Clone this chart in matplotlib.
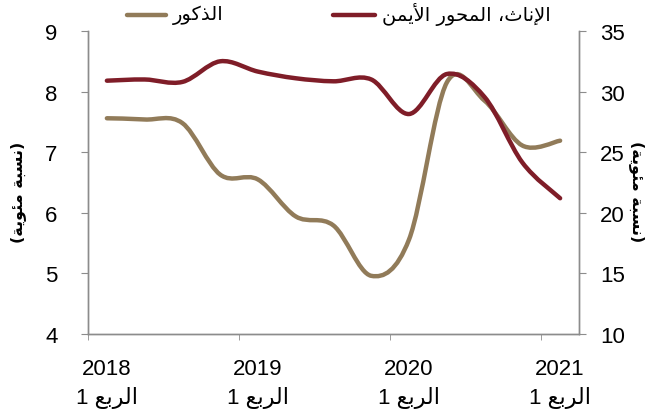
import matplotlib
matplotlib.use("Agg")
import matplotlib.pyplot as plt
import numpy as np
from matplotlib.path import Path
from matplotlib.patches import PathPatch
from matplotlib.lines import Line2D

# quarterly data, 2018 Q1 .. 2021 Q1
quarters = np.arange(13)
males = [7.56, 7.54, 7.48, 6.63, 6.55, 5.94, 5.79, 4.96, 5.56, 8.15, 7.85, 7.11, 7.19]      # left axis
females = [30.9, 31.0, 30.8, 32.5, 31.65, 31.1, 30.85, 31.0, 28.15, 31.45, 29.55, 24.15, 21.2]  # right axis
year_labels = ["2018", "2019", "2020", "2021"]
year_pos = [0, 4, 8, 12]

tan = "#917B59"
red = "#7F1D28"
grey = "#8C8C8C"

# --- minimal arabic shaping (presentation forms), matplotlib has no bidi/shaping ---
FORMS = {
    "\u0627": ("\uFE8D", "\uFE8E", None, None),
    "\u0625": ("\uFE87", "\uFE88", None, None),
    "\u0623": ("\uFE83", "\uFE84", None, None),
    "\u0644": ("\uFEDD", "\uFEDE", "\uFEDF", "\uFEE0"),
    "\u0630": ("\uFEAB", "\uFEAC", None, None),
    "\u0643": ("\uFED9", "\uFEDA", "\uFEDB", "\uFEDC"),
    "\u0648": ("\uFEED", "\uFEEE", None, None),
    "\u0631": ("\uFEAD", "\uFEAE", None, None),
    "\u0646": ("\uFEE5", "\uFEE6", "\uFEE7", "\uFEE8"),
    "\u062B": ("\uFE99", "\uFE9A", "\uFE9B", "\uFE9C"),
    "\u0645": ("\uFEE1", "\uFEE2", "\uFEE3", "\uFEE4"),
    "\u062D": ("\uFEA1", "\uFEA2", "\uFEA3", "\uFEA4"),
    "\u064A": ("\uFEF1", "\uFEF2", "\uFEF3", "\uFEF4"),
    "\u0633": ("\uFEB1", "\uFEB2", "\uFEB3", "\uFEB4"),
    "\u0628": ("\uFE8F", "\uFE90", "\uFE91", "\uFE92"),
    "\u0629": ("\uFE93", "\uFE94", None, None),
    "\u0626": ("\uFE89", "\uFE8A", "\uFE8B", "\uFE8C"),
    "\u0639": ("\uFEC9", "\uFECA", "\uFECB", "\uFECC"),
    "LA": ("\uFEFB", "\uFEFC", None, None),
    "LA_A": ("\uFEF7", "\uFEF8", None, None),
    "LA_I": ("\uFEF9", "\uFEFA", None, None),
}
LIG = {"\u0627": "LA", "\u0623": "LA_A", "\u0625": "LA_I"}


def shape(text):
    toks = []
    i = 0
    while i < len(text):
        c = text[i]
        if c == "\u0644" and i + 1 < len(text) and text[i + 1] in LIG:
            toks.append(LIG[text[i + 1]])
            i += 2
        else:
            toks.append(c)
            i += 1
    out = []
    for j, t in enumerate(toks):
        f = FORMS.get(t)
        if f is None:
            out.append(t)
            continue
        prev = j > 0 and toks[j - 1] in FORMS and FORMS[toks[j - 1]][2] is not None
        nxt = j + 1 < len(toks) and toks[j + 1] in FORMS and f[2] is not None
        if prev and nxt:
            out.append(f[3])
        elif prev:
            out.append(f[1])
        elif nxt:
            out.append(f[2])
        else:
            out.append(f[0])
    return "".join(reversed(out))   # visual (LTR) order


def smooth(xs, ys):
    # excel-like smoothed line: cubic bezier through every point
    p = np.column_stack([xs, ys]).astype(float)
    verts = [p[0]]
    codes = [Path.MOVETO]
    for i in range(len(p) - 1):
        p0 = p[i - 1] if i > 0 else p[i]
        p3 = p[i + 2] if i + 2 < len(p) else p[i + 1]
        verts += [p[i] + (p[i + 1] - p0) / 6, p[i + 1] - (p3 - p[i]) / 6, p[i + 1]]
        codes += [Path.CURVE4] * 3
    return Path(verts, codes)


plt.rcParams["font.family"] = ["Liberation Sans", "DejaVu Sans"]

fig = plt.figure(figsize=(6.59, 4.14), dpi=100)
ax = fig.add_axes([88 / 659, 1 - 335 / 414, 491 / 659, 303 / 414])
ax2 = ax.twinx()

ax.add_patch(PathPatch(smooth(quarters, males), fill=False, edgecolor=tan, lw=3.2,
                       capstyle="round", joinstyle="round"))
ax2.add_patch(PathPatch(smooth(quarters, females), fill=False, edgecolor=red, lw=3.2,
                        capstyle="round", joinstyle="round"))

ax.set_xlim(-0.5, 12.5)
ax.set_ylim(4, 9)
ax2.set_ylim(10, 35)
ax.set_yticks(range(4, 10))
ax2.set_yticks(range(10, 40, 5))

q1 = shape("\u0627\u0644\u0631\u0628\u0639")
ax.set_xticks(year_pos)
ax.set_xticklabels([y + "\n1 " + q1 for y in year_labels], linespacing=1.45)
ax.set_xticks([-0.5, 3.5, 7.5, 11.5], minor=True)
ax.tick_params(axis="x", which="major", length=0, pad=17, labelsize=16)
ax.tick_params(axis="x", which="minor", length=4, color=grey, direction="out")
ax.tick_params(axis="y", length=5, color=grey, direction="out", pad=17, labelsize=16)
ax2.tick_params(axis="y", length=5, color=grey, direction="out", pad=10, labelsize=16)

for a in (ax, ax2):
    a.spines["top"].set_visible(False)
    for s in ("left", "right", "bottom"):
        a.spines[s].set_color(grey)
        a.spines[s].set_linewidth(1.0)

unit = "(" + shape("\u0646\u0633\u0628\u0629 \u0645\u0626\u0648\u064A\u0629") + ")"
fig.text(18 / 659, 1 - 192 / 414, unit, rotation=90, ha="center", va="center",
         fontsize=11.5, fontweight="bold", family="DejaVu Sans")
fig.text(637 / 659, 1 - 192 / 414, unit, rotation=-90, ha="center", va="center",
         fontsize=11.5, fontweight="bold", family="DejaVu Sans")

# legend along the top
fig.add_artist(Line2D([127 / 659, 166 / 659], [1 - 16 / 414] * 2, color=tan, lw=3.2,
                      solid_capstyle="round"))
fig.text(173 / 659, 1 - 15 / 414, shape("\u0627\u0644\u0630\u0643\u0648\u0631"),
         ha="left", va="center", fontsize=14, family="DejaVu Sans")
fig.add_artist(Line2D([333 / 659, 375 / 659], [1 - 16 / 414] * 2, color=red, lw=3.2,
                      solid_capstyle="round"))
fig.text(382 / 659, 1 - 15 / 414,
         shape("\u0627\u0644\u0625\u0646\u0627\u062B\u060C \u0627\u0644\u0645\u062D\u0648\u0631 \u0627\u0644\u0623\u064A\u0645\u0646"),
         ha="left", va="center", fontsize=14, family="DejaVu Sans")

fig.savefig("out.png", dpi=100)
